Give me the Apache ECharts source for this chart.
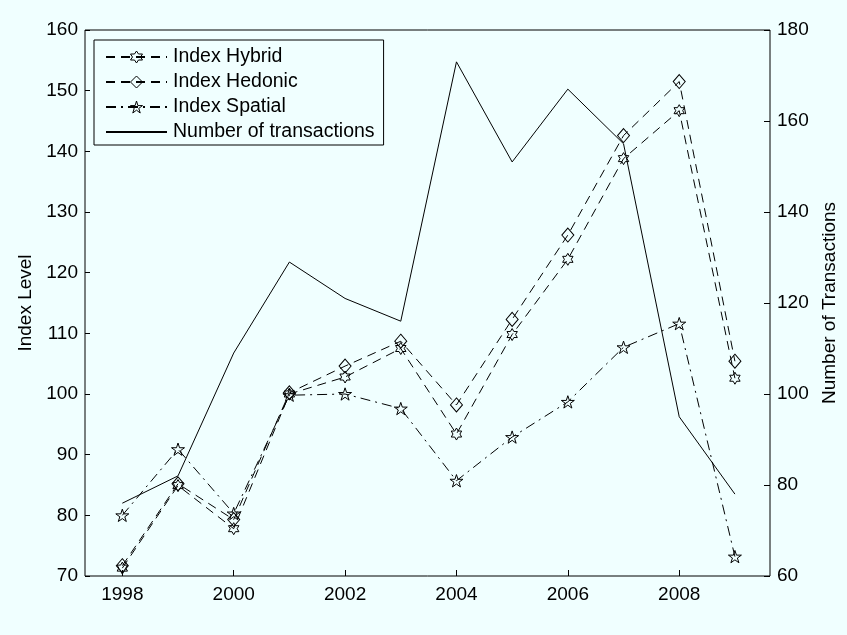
<!DOCTYPE html>
<html>
<head>
<meta charset="utf-8">
<script src="https://cdn.jsdelivr.net/npm/echarts@6/dist/echarts.min.js"></script>
<style>
  html, body { margin: 0; padding: 0; background: #f0ffff; }
  #chart { width: 847px; height: 635px; }
</style>
</head>
<body>
<div id="chart"></div>
<script>
// Years and series values
const years = [1998, 1999, 2000, 2001, 2002, 2003, 2004, 2005, 2006, 2007, 2008, 2009];
const indexHybrid = [71.3, 84.9, 77.8, 100.0, 102.8, 107.5, 93.4, 109.8, 122.2, 138.8, 146.7, 102.6];
const indexHedonic = [71.7, 85.2, 79.3, 100.2, 104.6, 108.7, 98.2, 112.3, 126.2, 142.6, 151.5, 105.4];
const indexSpatial = [80.0, 90.9, 80.3, 99.8, 100.0, 97.6, 85.7, 92.9, 98.7, 107.7, 111.6, 73.2];
const transactions = [76, 82, 109, 129, 121, 116, 173, 151, 167, 155, 95, 78];

const xTickYears = [1998, 2000, 2002, 2004, 2006, 2008];

// Hollow marker outlines
const hexagramPath = 'path://M100,0L128.87,50L186.6,50L157.74,100L186.6,150L128.87,150L100,200L71.13,150L13.4,150L42.26,100L13.4,50L71.13,50Z';
const pentagramPath = 'path://M100,0L122.45,69.1L195.1,69.1L136.33,111.8L158.8,180.9L100,138.2L41.2,180.9L63.67,111.8L4.9,69.1L77.55,69.1Z';

const FONT = 'Liberation Sans, Arial, Helvetica, sans-serif';
const BG = '#f0ffff';

function pairs(vals) {
  return years.map((y, i) => [y, vals[i]]);
}

const hollow = { color: 'rgba(0,0,0,0)', borderColor: '#000', borderWidth: 1 };

const chart = echarts.init(document.getElementById('chart'), null, { renderer: 'canvas' });

chart.setOption({
  backgroundColor: BG,
  animation: false,
  grid: {
    left: 85, right: 67, top: 30, bottom: 59,
    show: true, borderColor: '#000', borderWidth: 1, backgroundColor: 'rgba(0,0,0,0)'
  },
  legend: {
    orient: 'vertical',
    left: 94, top: 40,
    padding: [7, 9, 3, 11],
    itemWidth: 61, itemHeight: 15, itemGap: 5,
    backgroundColor: BG,
    borderColor: '#000', borderWidth: 1,
    textStyle: { fontFamily: FONT, fontSize: 19.5, color: '#000', padding: [0, 0, 0, 1] },
    data: [
      { name: 'Index Hybrid', itemStyle: hollow },
      { name: 'Index Hedonic', itemStyle: hollow },
      { name: 'Index Spatial', itemStyle: hollow },
      { name: 'Number of transactions', itemStyle: { opacity: 0 } }
    ]
  },
  xAxis: {
    type: 'value',
    min: 1997.33, max: 2009.63,
    axisLine: { show: false },
    splitLine: { show: false },
    axisTick: { show: true, inside: true, length: 6, lineStyle: { color: '#000' }, customValues: xTickYears },
    axisLabel: {
      color: '#000', fontFamily: FONT, fontSize: 19, margin: 9,
      customValues: xTickYears,
      formatter: v => String(Math.round(v))
    }
  },
  yAxis: [
    {
      type: 'value', position: 'left',
      min: 70, max: 160, interval: 10,
      name: 'Index Level', nameLocation: 'middle', nameGap: 50, nameRotate: 90,
      nameTextStyle: { fontFamily: FONT, fontSize: 19, color: '#000' },
      axisLine: { show: false },
      splitLine: { show: false },
      axisTick: { show: true, inside: true, length: 5, lineStyle: { color: '#000' } },
      axisLabel: { color: '#000', fontFamily: FONT, fontSize: 19, margin: 7 }
    },
    {
      type: 'value', position: 'right',
      min: 60, max: 180, interval: 20,
      name: 'Number of Transactions', nameLocation: 'middle', nameGap: 50, nameRotate: 90,
      nameTextStyle: { fontFamily: FONT, fontSize: 19, color: '#000' },
      axisLine: { show: false },
      splitLine: { show: false },
      axisTick: { show: true, inside: true, length: 6, lineStyle: { color: '#000' } },
      axisLabel: { color: '#000', fontFamily: FONT, fontSize: 19, margin: 7 }
    }
  ],
  series: [
    {
      name: 'Index Hybrid', type: 'line', yAxisIndex: 0,
      data: pairs(indexHybrid),
      symbol: hexagramPath, symbolSize: 12, symbolKeepAspect: true,
      itemStyle: hollow,
      lineStyle: { color: '#000', width: 1, type: [9, 6] },
      z: 3
    },
    {
      name: 'Index Hedonic', type: 'line', yAxisIndex: 0,
      data: pairs(indexHedonic),
      symbol: 'diamond', symbolSize: [12, 14],
      itemStyle: hollow,
      lineStyle: { color: '#000', width: 1, type: [9, 6] },
      z: 3
    },
    {
      name: 'Index Spatial', type: 'line', yAxisIndex: 0,
      data: pairs(indexSpatial),
      symbol: pentagramPath, symbolSize: 13, symbolKeepAspect: true,
      itemStyle: hollow,
      lineStyle: { color: '#000', width: 1, type: [10, 5, 2, 5] },
      z: 3
    },
    {
      name: 'Number of transactions', type: 'line', yAxisIndex: 1,
      data: pairs(transactions),
      symbol: 'none', showSymbol: false,
      itemStyle: { color: '#000' },
      lineStyle: { color: '#000', width: 1, type: 'solid' },
      z: 2
    }
  ]
});
</script>
</body>
</html>
